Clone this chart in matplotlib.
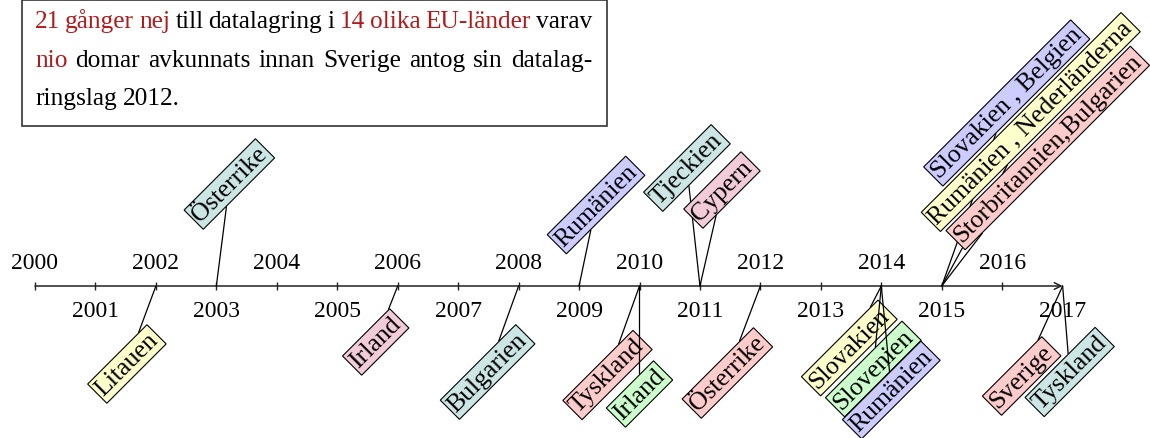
import matplotlib.pyplot as plt
import matplotlib.transforms as mtransforms
from matplotlib.patches import Rectangle

plt.rcParams['font.family'] = ['Liberation Serif', 'DejaVu Serif']

# data
years = list(range(2000, 2018))
event_years = [2002, 2006, 2008, 2010, 2010, 2012, 2014, 2014, 2014, 2017, 2017,
               2003, 2009, 2011, 2011, 2015, 2015, 2015]
event_countries = ["Litauen", "Irland", "Bulgarien", "Tyskland", "Irland", "Österrike",
                   "Slovakien", "Slovenien", "Rumänien", "Sverige", "Tyskland",
                   "Österrike", "Rumänien", "Tjeckien", "Cypern",
                   "Slovakien , Belgien", "Rumänien , Nederländerna",
                   "Storbritannien,Bulgarien"]

# styling / layout
fills = {"yellow": "#ffffcc", "purple": "#f2ccd9", "teal": "#cce6e6",
         "red": "#ffcccc", "green": "#ccffcc", "blue": "#ccccff"}
event_fill = ["yellow", "purple", "teal", "red", "green", "red",
              "yellow", "green", "blue", "red", "teal",
              "teal", "blue", "teal", "purple",
              "blue", "yellow", "red"]
# label centre offsets from the axis point, in pixels (up is positive)
event_offsets = [(-29, -78), (-22, -56), (-31, -86), (-32, -89), (0, -108), (-33, -87),
                 (-32, -62), (-8, -83), (10, -104), (-41, -90), (7, -86),
                 (13, 102), (17, 81), (-13, 118), (22, 96),
                 (65, 183), (89, 164), (106, 138)]

W, H = 1150, 439
px_per_year = 60.45
x0 = 2000 - 35 / px_per_year

fig = plt.figure(figsize=(W / 100, H / 100), dpi=100)
ax = fig.add_axes([0, 0, 1, 1])
ax.set_xlim(x0, x0 + W / px_per_year)
ax.set_ylim(-(H - 287), 287)
ax.axis('off')

# timeline
ax.annotate('', xy=(years[-1], 0), xytext=(years[0], 0),
            arrowprops=dict(arrowstyle='->', lw=1.1, color='#222222',
                            shrinkA=0, shrinkB=0, mutation_scale=12))
ax.vlines(years[:-1], -4, 4, color='#222222', lw=1.0)
for yr in years:
    if yr % 2 == 0:
        ax.text(yr, 18, str(yr), ha='center', va='baseline', fontsize=17)
    else:
        ax.text(yr, -30, str(yr), ha='center', va='baseline', fontsize=17)

# events
for yr, name, col, (dx, dy) in zip(event_years, event_countries, event_fill, event_offsets):
    ax.annotate(name, xy=(yr, 0), xytext=(dx, dy), textcoords='offset pixels',
                ha='center', va='center', rotation=45, rotation_mode='anchor',
                fontsize=18.5,
                bbox=dict(boxstyle='square,pad=0.1', fc=fills[col], ec='black', lw=0.8),
                arrowprops=dict(arrowstyle='-', lw=0.9, color='black',
                                shrinkA=0, shrinkB=0))

# text box
red = "#b01c1c"
para = [
    [("21", red), ("gånger", red), ("nej", red), ("till", "k"), ("datalagring", "k"),
     ("i", "k"), ("14", red), ("olika", red), ("EU-länder", red), ("varav", "k")],
    [("nio", red), ("domar", "k"), ("avkunnats", "k"), ("innan", "k"), ("Sverige", "k"),
     ("antog", "k"), ("sin", "k"), ("datalag-", "k")],
    [("ringslag", "k"), ("2012.", "k")],
]
baselines = [28, 67, 105]
left, right = 35, 592
fs = 18.3
ident = mtransforms.IdentityTransform()
renderer = fig.canvas.get_renderer()


def word_width(w):
    t = fig.text(0, 0, w, fontsize=fs)
    wd = t.get_window_extent(renderer).width
    t.remove()
    return wd


space = word_width("a b") - word_width("ab")
for i, line in enumerate(para):
    widths = [word_width(w) for w, c in line]
    if i < len(para) - 1:
        gap = (right - left - sum(widths)) / (len(line) - 1)
    else:
        gap = space
    x = left
    for (w, c), wd in zip(line, widths):
        fig.text(x, H - baselines[i], w, fontsize=fs, color=c, ha='left', va='baseline',
                 transform=ident)
        x += wd + gap

fig.add_artist(Rectangle((22, H - 127), 585, 126, transform=ident,
                         fill=False, ec='#333333', lw=1.2))

fig.savefig('out.png', dpi=100)
